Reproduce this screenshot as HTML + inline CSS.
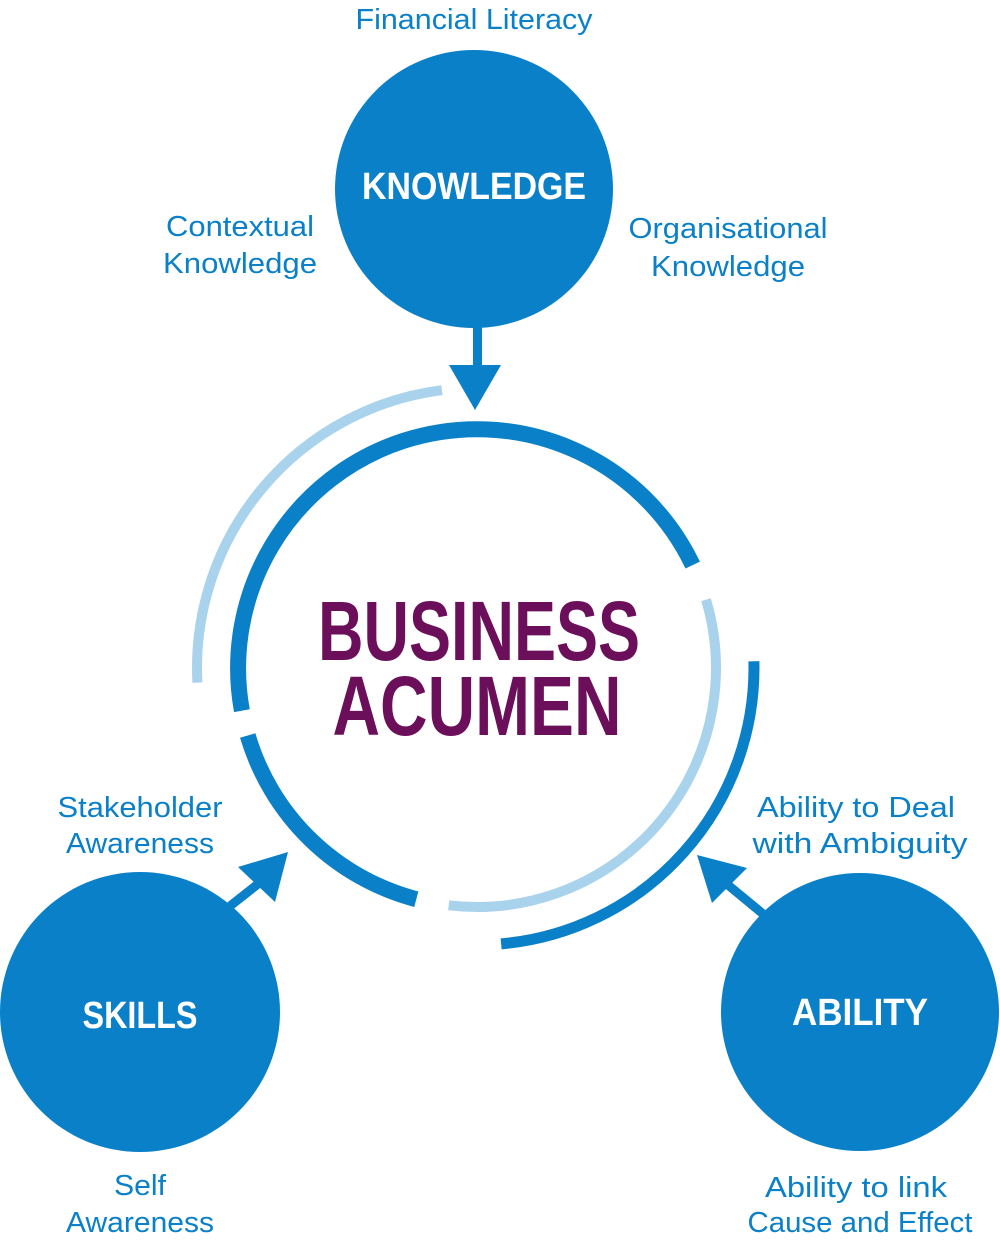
<!DOCTYPE html>
<html><head><meta charset="utf-8"><style>html,body{margin:0;padding:0;background:#fff}svg{display:block}</style></head>
<body>
<svg width="1000" height="1241" viewBox="0 0 1000 1241" xmlns="http://www.w3.org/2000/svg">
<g fill="none">
<path d="M241.9,710.7 A239,239 0 0 1 692.7,565.1" stroke="#0a80c8" stroke-width="16"/>
<path d="M416.3,899.2 A239,239 0 0 1 247.7,735.5" stroke="#0a80c8" stroke-width="16"/>
<path d="M706,599.7 A239,239 0 0 1 448.7,905.3" stroke="#a9d3ec" stroke-width="10"/>
<path d="M197.4,682.6 A280,280 0 0 1 441.9,390.2" stroke="#a9d3ec" stroke-width="10"/>
<path d="M753.9,661.2 A277,277 0 0 1 501.1,943.9" stroke="#0a80c8" stroke-width="11"/>
</g>
<g fill="#0a80c8">
<circle cx="474" cy="189" r="139"/>
<circle cx="140" cy="1012" r="140"/>
<circle cx="860" cy="1012" r="139"/>
<rect x="473" y="320" width="9" height="50"/>
<polygon points="449,365 501,365 475,410"/>
<line x1="225" y1="910" x2="258" y2="884" stroke="#0a80c8" stroke-width="9"/>
<polygon points="288,852 238,867 275,902"/>
<line x1="768" y1="918" x2="728" y2="885" stroke="#0a80c8" stroke-width="9"/>
<polygon points="697,855 747,868 712,903"/>
</g>
<g font-family="Liberation Sans, sans-serif" fill="#fff" font-weight="bold" text-anchor="middle">
<text x="474" y="199" font-size="38" textLength="224" lengthAdjust="spacingAndGlyphs">KNOWLEDGE</text>
<text x="140" y="1028" font-size="38" textLength="115" lengthAdjust="spacingAndGlyphs">SKILLS</text>
<text x="860" y="1025" font-size="38" textLength="136" lengthAdjust="spacingAndGlyphs">ABILITY</text>
</g>
<g font-family="Liberation Sans, sans-serif" fill="#6b0f5a" font-weight="bold" text-anchor="middle">
<text x="479" y="660" font-size="84" textLength="322" lengthAdjust="spacingAndGlyphs">BUSINESS</text>
<text x="477" y="735" font-size="84" textLength="289" lengthAdjust="spacingAndGlyphs">ACUMEN</text>
</g>
<g font-family="Liberation Sans, sans-serif" fill="#0a80c8" font-size="29" text-anchor="middle">
<text x="474" y="29" textLength="237" lengthAdjust="spacingAndGlyphs">Financial Literacy</text>
<text x="240" y="236" textLength="148" lengthAdjust="spacingAndGlyphs">Contextual</text>
<text x="240" y="273" textLength="154" lengthAdjust="spacingAndGlyphs">Knowledge</text>
<text x="728" y="238" textLength="199" lengthAdjust="spacingAndGlyphs">Organisational</text>
<text x="728" y="276" textLength="154" lengthAdjust="spacingAndGlyphs">Knowledge</text>
<text x="140" y="817" textLength="165" lengthAdjust="spacingAndGlyphs">Stakeholder</text>
<text x="140" y="853" textLength="148" lengthAdjust="spacingAndGlyphs">Awareness</text>
<text x="140" y="1195" textLength="52" lengthAdjust="spacingAndGlyphs">Self</text>
<text x="140" y="1232" textLength="148" lengthAdjust="spacingAndGlyphs">Awareness</text>
<text x="856" y="817" textLength="198" lengthAdjust="spacingAndGlyphs">Ability to Deal</text>
<text x="860" y="853" textLength="215" lengthAdjust="spacingAndGlyphs">with Ambiguity</text>
<text x="856" y="1197" textLength="182" lengthAdjust="spacingAndGlyphs">Ability to link</text>
<text x="860" y="1232" textLength="225" lengthAdjust="spacingAndGlyphs">Cause and Effect</text>
</g>
</svg>
</body></html>
